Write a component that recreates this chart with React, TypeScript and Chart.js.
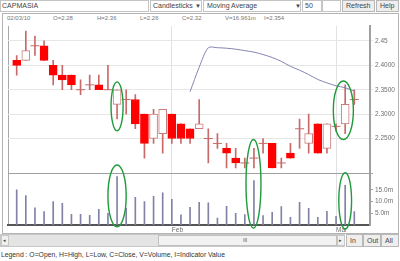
import React, { useEffect, useRef } from 'react';
import { Chart, registerables } from 'chart.js';
Chart.register(...registerables);

// ---- data ----
const opens = [2.41, 2.41, 2.44, 2.44, 2.40, 2.38, 2.38, 2.35, 2.36, 2.36, 2.35, 2.32, 2.33, 2.33, 2.30, 2.25, 2.26, 2.30, 2.28, 2.27, 2.27, 2.25, 2.24, 2.23, 2.21, 2.20, 2.21, 2.24, 2.24, 2.20, 2.22, 2.27, 2.24, 2.28, 2.23, 2.275, 2.28, 2.33];
const highs = [2.42, 2.47, 2.46, 2.45, 2.41, 2.40, 2.38, 2.37, 2.38, 2.38, 2.40, 2.35, 2.35, 2.34, 2.30, 2.31, 2.31, 2.30, 2.28, 2.27, 2.33, 2.27, 2.26, 2.24, 2.23, 2.21, 2.23, 2.25, 2.24, 2.21, 2.24, 2.29, 2.30, 2.28, 2.28, 2.28, 2.36, 2.35];
const lows = [2.38, 2.41, 2.42, 2.41, 2.36, 2.35, 2.35, 2.34, 2.35, 2.35, 2.35, 2.29, 2.30, 2.27, 2.21, 2.24, 2.22, 2.24, 2.24, 2.24, 2.27, 2.20, 2.23, 2.19, 2.19, 2.19, 2.19, 2.22, 2.19, 2.19, 2.21, 2.23, 2.22, 2.22, 2.22, 2.265, 2.26, 2.32];
const closes = [2.40, 2.43, 2.44, 2.41, 2.38, 2.37, 2.36, 2.35, 2.36, 2.35, 2.35, 2.35, 2.33, 2.28, 2.24, 2.30, 2.31, 2.25, 2.25, 2.25, 2.28, 2.25, 2.24, 2.22, 2.20, 2.20, 2.21, 2.24, 2.19, 2.20, 2.21, 2.27, 2.26, 2.22, 2.28, 2.275, 2.32, 2.33];
const volumesM = [15.0, 12.5, 7.3, 5.7, 10.0, 9.2, 4.5, 4.5, 4.1, 6.7, 5.0, 20.6, 7.1, 11.8, 10.0, 12.2, 13.7, 10.9, 4.3, 7.5, 9.7, 9.4, 3.0, 8.0, 5.0, 4.4, 18.9, 4.0, 5.4, 7.8, 3.3, 9.7, 7.1, 3.3, 5.8, 3.7, 16.961, 5.7];
const movingAvg50 = [null, null, null, null, null, null, null, null, null, null, null, null, null, null, null, null, null, null, null,
  2.346, 2.396, 2.436, 2.436, 2.435, 2.433, 2.430, 2.427, 2.422, 2.416, 2.408, 2.398, 2.390, 2.381, 2.371, 2.364, 2.358, 2.354, 2.347];
const priceTicks = [2.225, 2.25, 2.275, 2.3, 2.325, 2.35, 2.375, 2.4, 2.425, 2.45];
const volumeTicks = [5, 10, 15];
const monthIndex = [17, 35];
const monthLabels = ['Feb', 'Mar'];

// hand-drawn highlight ellipses: centre index, half-width (in bars), top/bottom value and the axis each is on
const hlIndex = [11, 11, 25.95, 35.8, 36];
const hlHalfWidth = [0.66, 1.0, 0.82, 1.1, 0.7];
const hlTop = [2.366, 25.6, 2.248, 2.368, 22.3];
const hlTopAxis = ['y', 'yv', 'y', 'y', 'yv'];
const hlBottom = [2.266, -0.8, -1.3, 2.248, -1.7];
const hlBottomAxis = ['y', 'yv', 'yv', 'y', 'yv'];

const PRICE_MIN = 2.1779;
const PRICE_MAX = 2.4807;
const VOL_MAX = 21.85;
const X_MIN = -0.953;
const X_MAX = 38.72;

const FONT = "'Liberation Sans', Arial, sans-serif";

const highlightPlugin = {
  id: 'highlights',
  afterDraw(chart: any) {
    const { ctx, scales } = chart;
    ctx.save();
    ctx.strokeStyle = '#1f9a3c';
    ctx.lineWidth = 1.4;
    hlIndex.forEach((ix, k) => {
      const cx = scales.x.getPixelForValue(ix);
      const rx = Math.abs(scales.x.getPixelForValue(ix + hlHalfWidth[k]) - cx);
      const top = scales[hlTopAxis[k]].getPixelForValue(hlTop[k]);
      const bottom = scales[hlBottomAxis[k]].getPixelForValue(hlBottom[k]);
      ctx.beginPath();
      ctx.ellipse(cx, (top + bottom) / 2, rx, Math.abs(bottom - top) / 2, 0, 0, Math.PI * 2);
      ctx.stroke();
    });
    ctx.restore();
  },
};

function ChartCanvas() {
  const ref = useRef<HTMLCanvasElement | null>(null);
  useEffect(() => {
    if (!ref.current) return;
    const idx = opens.map((_, i) => i);
    const isDoji = (i: number) => opens[i] === closes[i];
    const up = (i: number) => closes[i] > opens[i];
    const chart = new Chart(ref.current, {
      type: 'bar',
      plugins: [highlightPlugin],
      data: {
        datasets: [
          {
            type: 'line',
            label: 'MA',
            data: idx.map((i) => ({ x: i, y: movingAvg50[i] })) as any,
            borderColor: '#8484b4',
            borderWidth: 1,
            pointRadius: 0,
            tension: 0.3,
            spanGaps: false,
            yAxisID: 'y',
            order: 0,
          },
          {
            type: 'line',
            label: 'doji',
            data: idx.map((i) => ({ x: i, y: isDoji(i) ? opens[i] : null })) as any,
            showLine: false,
            pointStyle: 'line',
            pointRadius: 4.5,
            pointBorderColor: '#c86a6a',
            pointBorderWidth: 1,
            yAxisID: 'y',
            order: 1,
          },
          {
            type: 'bar',
            label: 'body',
            data: idx.map((i) => ({ x: i, y: isDoji(i) ? null : [Math.min(opens[i], closes[i]), Math.max(opens[i], closes[i])] })) as any,
            backgroundColor: idx.map((i) => (up(i) ? '#ffffff' : '#ff0000')),
            borderColor: idx.map((i) => (up(i) ? '#c87c7c' : '#ff0000')),
            borderWidth: 1,
            borderSkipped: false,
            barThickness: 8,
            grouped: false,
            yAxisID: 'y',
            order: 2,
          },
          {
            type: 'bar',
            label: 'wick',
            data: idx.map((i) => ({ x: i, y: [lows[i], highs[i]] })) as any,
            backgroundColor: '#c86a6a',
            barThickness: 1,
            grouped: false,
            yAxisID: 'y',
            order: 3,
          },
          {
            type: 'bar',
            label: 'volume',
            data: idx.map((i) => ({ x: i, y: volumesM[i] })) as any,
            backgroundColor: '#8282a8',
            barThickness: 1,
            grouped: false,
            yAxisID: 'yv',
            order: 4,
          },
        ],
      },
      options: {
        animation: false,
        responsive: false,
        maintainAspectRatio: false,
        layout: { padding: { left: 6, right: 0, top: 3, bottom: 0 } },
        plugins: { legend: { display: false }, tooltip: { enabled: false } },
        events: [],
        scales: {
          x: {
            type: 'linear',
            min: X_MIN,
            max: X_MAX,
            offset: false,
            position: 'bottom',
            afterBuildTicks: (s: any) => {
              s.ticks = [X_MIN, ...monthIndex].map((v) => ({ value: v }));
            },
            afterFit: (s: any) => {
              s.height = 9;
            },
            ticks: {
              autoSkip: false,
              maxRotation: 0,
              align: 'start',
              padding: 1,
              color: '#707070',
              font: { family: FONT, size: 6.5 },
              callback: (v: any) => {
                const k = monthIndex.indexOf(Number(v));
                return k >= 0 ? monthLabels[k] : '';
              },
            },
            grid: {
              offset: false,
              drawTicks: false,
              lineWidth: 1,
              color: (c: any) => (c.tick && c.tick.value === X_MIN ? '#a8a8a8' : '#e2e2e2'),
            },
            border: { color: '#555555', width: 2 },
          },
          y: {
            type: 'linear',
            position: 'right',
            stack: 'panels',
            stackWeight: 150,
            min: PRICE_MIN,
            max: PRICE_MAX,
            afterBuildTicks: (s: any) => {
              s.ticks = [PRICE_MIN, ...priceTicks].map((v) => ({ value: v }));
            },
            afterFit: (s: any) => {
              s.width = 28;
            },
            ticks: {
              padding: 2,
              color: '#707070',
              font: { family: FONT, size: 6.5 },
              callback: (v: any) => {
                const n = Number(v);
                if (n === PRICE_MIN) return '';
                return n === 2.45 ? '2.45' : n.toFixed(4);
              },
            },
            grid: {
              tickLength: 3,
              color: (c: any) => (c.tick && c.tick.value === PRICE_MIN ? '#a0a0a0' : '#e6e6e6'),
            },
            border: { color: '#a0a0a0', width: 2 },
          },
          yv: {
            type: 'linear',
            position: 'right',
            stack: 'panels',
            stackWeight: 52,
            min: 0,
            max: VOL_MAX,
            afterBuildTicks: (s: any) => {
              s.ticks = volumeTicks.map((v) => ({ value: v }));
            },
            afterFit: (s: any) => {
              s.width = 28;
            },
            ticks: {
              padding: 2,
              color: '#707070',
              font: { family: FONT, size: 6.5 },
              callback: (v: any) => Number(v).toFixed(1) + 'm',
            },
            grid: { drawOnChartArea: false, tickLength: 3, color: '#a0a0a0' },
            border: { color: '#a0a0a0', width: 2 },
          },
        },
      },
    } as any);
    return () => chart.destroy();
  }, []);
  return <canvas ref={ref} width={396} height={214} style={{ position: 'absolute', left: 2, top: 20, width: 396, height: 214 }} />;
}

const txt: React.CSSProperties = { position: 'absolute', fontFamily: FONT, fontSize: 7, color: '#444', whiteSpace: 'nowrap', lineHeight: '12px' };
const field = (left: number, width: number, extra: React.CSSProperties = {}): React.CSSProperties => ({
  position: 'absolute', left, top: 0, width, height: 12, border: '1px solid #c4c4c4', background: '#fff', boxSizing: 'border-box', ...extra,
});

export default function App() {
  const infoItems = ['02/03/10', 'O=2.28', 'H=2.36', 'L=2.26', 'C=2.32', 'V=16.961m', 'I=2.354'];
  const infoX = [7, 53, 97, 140, 182, 225, 264];
  return (
    <div style={{ position: 'fixed', left: 0, top: 0, width: 400, height: 261, background: '#fff', overflow: 'hidden' }}>
      {/* toolbar */}
      <div style={field(0, 149)}><span style={{ ...txt, left: 1, top: -1 }}>CAPMASIA</span></div>
      <div style={field(150, 52)}>
        <span style={{ ...txt, left: 2, top: -1 }}>Candlesticks</span>
        <span style={{ ...txt, left: 44, top: -1, fontSize: 6 }}>▼</span>
      </div>
      <div style={field(203, 98)}>
        <span style={{ ...txt, left: 3, top: -1 }}>Moving Average</span>
        <span style={{ ...txt, left: 91, top: -1, fontSize: 6 }}>▼</span>
      </div>
      <div style={field(302, 20)}><span style={{ ...txt, left: 2, top: -1 }}>50</span></div>
      <div style={field(322, 19)} />
      <div style={field(342, 33, { background: '#eeeeee', border: '1px solid #b8b8b8' })}><span style={{ ...txt, left: 3, top: -1 }}>Refresh</span></div>
      <div style={field(376, 23, { background: '#eeeeee', border: '1px solid #b8b8b8' })}><span style={{ ...txt, left: 3, top: -1 }}>Help</span></div>

      {/* chart frame */}
      <div style={{ position: 'absolute', left: 2, top: 13, width: 397, height: 221, border: '1px solid #b4b4b4', boxSizing: 'border-box' }} />
      {infoItems.map((s, i) => (
        <span key={i} style={{ ...txt, left: infoX[i], top: 13, fontSize: 6, color: '#777', lineHeight: '10px' }}>{s}</span>
      ))}
      <ChartCanvas />

      {/* scrollbar */}
      <div style={{ position: 'absolute', left: 0, top: 234, width: 345, height: 13, background: '#e4e4e4', border: '1px solid #c8c8c8', boxSizing: 'border-box' }} />
      <div style={{ position: 'absolute', left: 1, top: 235, width: 8, height: 11, background: '#f0f0f0', border: '1px solid #c8c8c8', boxSizing: 'border-box' }} />
      <span style={{ ...txt, left: 3, top: 234, fontSize: 5, lineHeight: '13px' }}>◂</span>
      <div style={{ position: 'absolute', left: 158, top: 235, width: 179, height: 11, background: '#f2f2f2', border: '1px solid #c0c0c0', boxSizing: 'border-box' }} />
      <span style={{ ...txt, left: 243, top: 234, fontSize: 5, lineHeight: '13px' }}>III</span>
      <div style={{ position: 'absolute', left: 337, top: 235, width: 8, height: 11, background: '#f0f0f0', border: '1px solid #c8c8c8', boxSizing: 'border-box' }} />
      <span style={{ ...txt, left: 339, top: 234, fontSize: 5, lineHeight: '13px' }}>▸</span>
      {[['In', 346, 17], ['Out', 363, 18], ['All', 381, 18]].map(([t, l, w]) => (
        <div key={t as string} style={{ position: 'absolute', left: l as number, top: 234, width: w as number, height: 13, background: '#eeeeee', border: '1px solid #b8b8b8', boxSizing: 'border-box' }}>
          <span style={{ ...txt, left: 3, top: 0, lineHeight: '11px' }}>{t}</span>
        </div>
      ))}

      {/* legend */}
      <span style={{ ...txt, left: 1, top: 249, fontSize: 6.8, color: '#333' }}>Legend : O=Open, H=High, L=Low, C=Close, V=Volume, I=Indicator Value</span>
    </div>
  );
}
